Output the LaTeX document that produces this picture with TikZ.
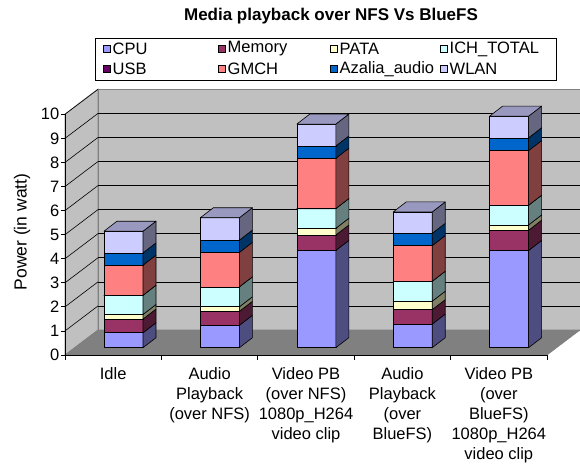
\documentclass[tikz,border=0pt]{standalone}
\usepackage{fontspec}
\setmainfont{Liberation Sans}
\definecolor{cpu}{HTML}{9999FF}\definecolor{cpuS}{HTML}{4D4D80}
\definecolor{mem}{HTML}{993366}\definecolor{memS}{HTML}{4D1A33}
\definecolor{pata}{HTML}{FFFFCC}\definecolor{pataS}{HTML}{808066}
\definecolor{ich}{HTML}{CCFFFF}\definecolor{ichS}{HTML}{668080}
\definecolor{usb}{HTML}{660066}\definecolor{usbS}{HTML}{330033}
\definecolor{gmch}{HTML}{FF8080}\definecolor{gmchS}{HTML}{804040}
\definecolor{aza}{HTML}{0066CC}\definecolor{azaS}{HTML}{003366}
\definecolor{wlan}{HTML}{CCCCFF}\definecolor{wlanS}{HTML}{666680}
\definecolor{wlanT}{HTML}{9999BF}
\definecolor{wall}{HTML}{C0C0C0}\definecolor{floorc}{HTML}{808080}
\tikzset{
  face/.style={draw=black,line width=0.6bp,line join=round},
  lbl/.style={font=\fontsize{16.5bp}{20bp}\selectfont,inner sep=0pt},
  grid/.style={draw=black,line width=0.6bp},
  swatch/.style={draw=black,line width=0.5bp,minimum size=7.5bp,inner sep=0pt},
}
\newcommand\onebar[9]{%
  \pgfmathsetmacro\bx{104+96.4*#1}
  \xdef\cum{0}
  \foreach \v/\c in {#2/cpu,#3/mem,#4/pata,#5/ich,#6/usb,#7/gmch,#8/aza,#9/wlan}{
    \pgfmathsetmacro\ya{347.7-24.07*\cum}
    \pgfmathsetmacro\yb{347.7-24.07*(\cum+\v)}
    \fill[\c,face] (\bx,\ya) rectangle (\bx+39,\yb);
    \fill[\c S,face] (\bx+39,\ya) -- (\bx+52,\ya-10) -- (\bx+52,\yb-10) -- (\bx+39,\yb) -- cycle;
    \pgfmathsetmacro\nc{\cum+\v}\xdef\cum{\nc}
  }
  \pgfmathsetmacro\yt{347.7-24.07*\cum}
  \fill[wlanT,face] (\bx,\yt) -- (\bx+13,\yt-10) -- (\bx+52,\yt-10) -- (\bx+39,\yt) -- cycle;
}
\begin{document}
\begin{tikzpicture}[x=1bp,y=-1bp]
\useasboundingbox (0,0) rectangle (580,466);
% title
\node[font=\fontsize{17bp}{20bp}\selectfont\bfseries] (title) at (331,16) {Media playback over NFS Vs BlueFS};
% legend
\draw[line width=0.6bp] (95,38) rectangle (556,80);
\foreach \c/\t/\x/\y [count=\i] in {cpu/CPU/103/49, mem/Memory/218/49, pata/PATA/330/49, ich/ICH\_TOTAL/440/49,
  usb/USB/103/69, gmch/GMCH/218/69, aza/Azalia\_audio/330/69, wlan/WLAN/440/69}{
  \node[swatch,fill=\c] (sw\i) at (\x+3.5,\y) {};
  \node[lbl,anchor=west] (lg\i) at (\x+9.5,\y) {\t};
}
% walls and floor
\filldraw[fill=wall,draw=floorc,line width=0.6bp] (65,355) -- (98,330) -- (98,89) -- (65,114) -- cycle;
\filldraw[fill=wall,draw=floorc,line width=0.6bp] (98,330) rectangle (580,89);
\filldraw[fill=floorc,draw=floorc,line width=0.6bp] (65,355) -- (547,355) -- (580,330) -- (98,330) -- cycle;
\foreach \v in {1,...,9}{
  \draw[grid] (98,330-24.07*\v) -- (580,330-24.07*\v);
}
\foreach \v in {1,...,10}{
  \draw[grid] (65,355-24.07*\v) -- (98,330-24.07*\v);
}
% axes
\draw[line width=0.8bp] (65,114) -- (65,355) -- (547,355);
\foreach \v in {0,...,10}{
  \draw[line width=0.8bp] (61,355-24.07*\v) -- (65,355-24.07*\v);
  \node[lbl,anchor=east] (yl\v) at (59.5,355-24.07*\v) {\v};
}
\foreach \k in {0,...,5}{
  \draw[line width=0.8bp] (65+96.4*\k,355) -- (65+96.4*\k,360);
}
\node[font=\fontsize{17.5bp}{20bp}\selectfont,inner sep=0pt,rotate=90] (ytitle) at (22,232) {Power (in watt)};
% bars
\onebar{0}{0.62}{0.57}{0.19}{0.80}{0}{1.25}{0.51}{0.90}
\onebar{1}{0.93}{0.58}{0.19}{0.83}{0}{1.43}{0.51}{0.93}
\onebar{2}{4.04}{0.64}{0.28}{0.82}{0}{2.09}{0.51}{0.91}
\onebar{3}{0.98}{0.60}{0.35}{0.83}{0}{1.48}{0.51}{0.89}
\onebar{4}{4.04}{0.84}{0.22}{0.82}{0}{2.27}{0.53}{0.90}
% category labels
\foreach \t [count=\i from 0] in {Idle, {Audio\\Playback\\(over NFS)}, {Video PB\\(over NFS)\\1080p\_H264\\video clip},
  {Audio\\Playback\\(over\\BlueFS)}, {Video PB\\(over\\BlueFS)\\1080p\_H264\\video clip}}{
  \node[lbl,anchor=north,align=center] (cat\i) at (113.2+96.4*\i,367) {\t};
}
\end{tikzpicture}
\end{document}
